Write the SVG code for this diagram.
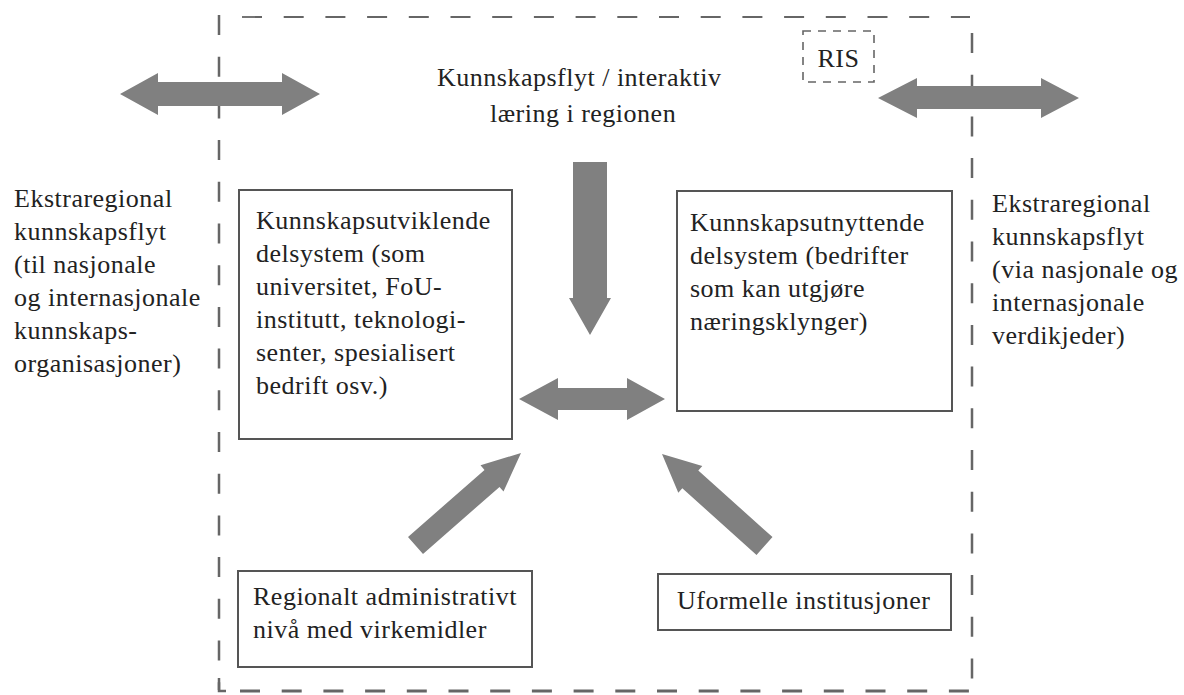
<svg xmlns="http://www.w3.org/2000/svg" width="1184" height="695" viewBox="0 0 1184 695">
<style>
.t{font-family:"Liberation Serif","Times New Roman",serif;font-size:26px;letter-spacing:0.5px;fill:#222}
.box{fill:#fff;stroke:#555;stroke-width:2}
.arr{fill:#808080}
.dash{stroke:#666;fill:none;stroke-dasharray:20 21.7}
</style>
<rect width="1184" height="695" fill="#fff"/>
<g id="region">
<line class="dash" x1="219" y1="15" x2="219" y2="690" stroke-width="2.5" stroke-dasharray="20 22"/>
<line class="dash" x1="242" y1="17" x2="970" y2="17" stroke-width="1.8"/>
<line class="dash" x1="972" y1="33" x2="972" y2="690" stroke-width="2.5" stroke-dasharray="21 21"/>
<line class="dash" x1="240" y1="691" x2="970" y2="691" stroke-width="3"/>
<path d="M219,678 V691 H226" stroke="#666" stroke-width="2.5" fill="none"/>
</g>
<g id="ris">
<rect x="803" y="31" width="71" height="51" fill="none" stroke="#666" stroke-width="1.6" stroke-dasharray="8 7"/>
<text class="t" x="838.5" y="67" text-anchor="middle" font-size="28" letter-spacing="0">RIS</text>
</g>
<g id="title">
<text class="t" x="437" y="86">Kunnskapsflyt / interaktiv</text>
<text class="t" x="490" y="122">læring i regionen</text>
</g>
<g id="ext-left">
<text class="t" x="14" y="207">Ekstraregional</text>
<text class="t" x="14" y="240">kunnskapsflyt</text>
<text class="t" x="14" y="273">(til nasjonale</text>
<text class="t" x="14" y="306">og internasjonale</text>
<text class="t" x="14" y="339">kunnskaps-</text>
<text class="t" x="14" y="372">organisasjoner)</text>
</g>
<g id="ext-right">
<text class="t" x="992" y="212">Ekstraregional</text>
<text class="t" x="992" y="245">kunnskapsflyt</text>
<text class="t" x="992" y="278">(via nasjonale og</text>
<text class="t" x="992" y="311">internasjonale</text>
<text class="t" x="992" y="344">verdikjeder)</text>
</g>
<g id="node-utviklende">
<rect class="box" x="239" y="190" width="273" height="249"/>
<text class="t" x="256" y="229">Kunnskapsutviklende</text>
<text class="t" x="256" y="262">delsystem (som</text>
<text class="t" x="256" y="295">universitet, FoU-</text>
<text class="t" x="256" y="328">institutt, teknologi-</text>
<text class="t" x="256" y="361">senter, spesialisert</text>
<text class="t" x="256" y="394">bedrift osv.)</text>
</g>
<g id="node-utnyttende">
<rect class="box" x="677" y="191" width="275" height="220"/>
<text class="t" x="690" y="231">Kunnskapsutnyttende</text>
<text class="t" x="690" y="264">delsystem (bedrifter</text>
<text class="t" x="690" y="297">som kan utgjøre</text>
<text class="t" x="690" y="330">næringsklynger)</text>
</g>
<g id="node-admin">
<rect class="box" x="238" y="571" width="294" height="96"/>
<text class="t" x="253" y="605">Regionalt administrativt</text>
<text class="t" x="253" y="638">nivå med virkemidler</text>
</g>
<g id="node-uformelle">
<rect class="box" x="658" y="574" width="293" height="56"/>
<text class="t" x="677" y="609">Uformelle institusjoner</text>
</g>
<g id="connectors">
<polygon class="arr" points="120,94 158,73 158,82 282,82 282,73 320,94 282,115 282,106 158,106 158,115"/>
<polygon class="arr" points="878,98 917,78 917,86 1041,86 1041,78 1079,98 1041,118 1041,109 917,109 917,118"/>
<polygon class="arr" points="573,162 607,162 607,298 611,298 590,335 569,298 573,298"/>
<polygon class="arr" points="519,399 558,378 558,388 627,388 627,378 665,399 627,420 627,410 558,410 558,420"/>
<polygon class="arr" points="521,453 480.5,465.3 484.5,469.9 408,537 423,554 499.5,486.9 503.5,491.5"/>
<polygon class="arr" points="662,454 702.3,466 698.3,470.5 772.5,537.1 756.5,554.9 682.3,488.3 678.3,492.8"/>
</g>
</svg>
